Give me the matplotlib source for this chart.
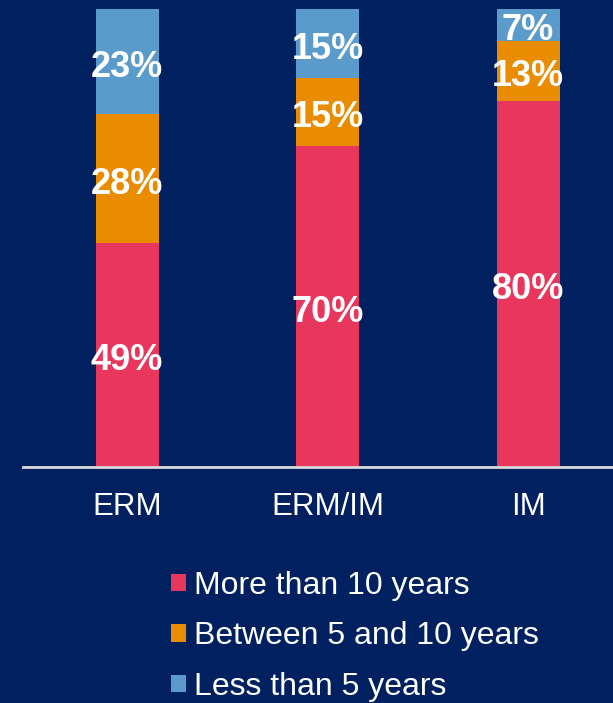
import matplotlib.pyplot as plt
from matplotlib.patches import Patch
import numpy as np

plt.rcParams['font.family'] = ['Liberation Sans', 'DejaVu Sans']

categories = ['ERM', 'ERM/IM', 'IM']
more_10 = [49, 70, 80]
between_5_10 = [28, 15, 13]
less_5 = [23, 15, 7]
series_names = ['More than 10 years', 'Between 5 and 10 years', 'Less than 5 years']
colors = ['#E8365D', '#EA8C00', '#5B9BCB']
bg = '#00205F'

fig = plt.figure(figsize=[6.13, 7.03], dpi=100, facecolor=bg)
ax = fig.add_axes([23/613, (703-467)/703, 590/613, 458/703])
ax.set_facecolor(bg)

x = np.arange(len(categories))
bottom = np.zeros(len(categories))
for vals, col in zip([more_10, between_5_10, less_5], colors):
    vals = np.array(vals)
    ax.bar(x, vals, width=0.314, bottom=bottom, color=col)
    for xi, b, v in zip(x, bottom, vals):
        # labels sit a touch below the segment middle
        ax.text(xi, b + v / 2 - 0.4, f'{v}%', ha='center', va='center_baseline',
                color='white', fontsize=26, fontweight='bold')
    bottom += vals

ax.set_xlim(-0.519, -0.519 + 590/200.5)
ax.set_ylim(0, 100)
for s in ['top', 'right', 'left']:
    ax.spines[s].set_visible(False)
ax.spines['bottom'].set_color('#D9D9D9')
ax.spines['bottom'].set_linewidth(2)
ax.set_yticks([])
ax.set_xticks(x)
ax.set_xticklabels(categories, color='white', fontsize=22.5)
ax.tick_params(axis='x', length=0, pad=18)

handles = [Patch(facecolor=c) for c in colors]
fig.legend(handles, series_names, loc='upper left', bbox_to_anchor=(158/613, 1 - 558/703),
           frameon=False, fontsize=23, labelcolor='white', handlelength=0.47,
           handleheight=0.47, handletextpad=0.25, labelspacing=0.64, borderaxespad=0)

fig.savefig('out.png', facecolor=bg)
